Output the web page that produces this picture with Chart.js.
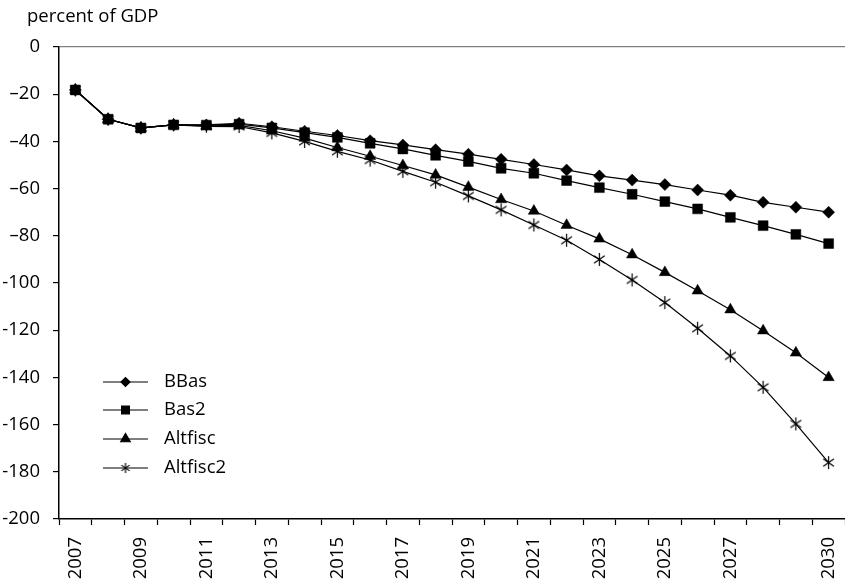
<!DOCTYPE html>
<html>
<head>
<meta charset="utf-8">
<script src="https://cdn.jsdelivr.net/npm/chart.js@4.4.0/dist/chart.umd.min.js"></script>
<style>
  html, body { margin: 0; padding: 0; background: #fff; }
  #wrap { width: 845px; height: 580px; }
</style>
</head>
<body>
<div id="wrap"><canvas id="chart" width="845" height="580"></canvas></div>
<script>
const years = [2007, 2008, 2009, 2010, 2011, 2012, 2013, 2014, 2015, 2016, 2017, 2018,
               2019, 2020, 2021, 2022, 2023, 2024, 2025, 2026, 2027, 2028, 2029, 2030];
const shownYears = [2007, 2009, 2011, 2013, 2015, 2017, 2019, 2021, 2023, 2025, 2027, 2030];

const bbas = [-18.2, -30.6, -34.3, -33.0, -33.0, -32.3, -33.8, -35.7, -37.5, -39.7, -41.5, -43.5,
              -45.4, -47.6, -49.8, -52.1, -54.6, -56.4, -58.3, -60.6, -62.8, -65.8, -67.9, -70.0];
const bas2 = [-18.2, -30.6, -34.3, -33.0, -33.1, -32.7, -34.3, -36.3, -38.3, -40.8, -43.2, -45.9,
              -48.5, -51.4, -53.5, -56.6, -59.6, -62.4, -65.5, -68.6, -72.2, -75.7, -79.4, -83.3];
const altfisc = [-18.2, -30.6, -34.3, -33.0, -33.4, -33.2, -35.5, -38.6, -42.6, -46.3, -50.2, -54.2,
                 -59.4, -64.6, -69.5, -75.5, -81.3, -88.0, -95.5, -103.3, -111.3, -120.2, -129.6, -140.0];
const altfisc2 = [-18.2, -30.6, -34.3, -33.0, -33.6, -33.7, -36.4, -40.0, -44.2, -47.9, -52.7, -57.3,
                  -63.1, -69.0, -75.4, -81.9, -90.0, -98.7, -108.3, -119.2, -130.9, -144.2, -159.7, -176.1];

const yMin = -200;
const yMax = 0;
const yStep = 20;

const FONT = "'Open Sans', 'Noto Sans', sans-serif";
const FONT_SIZE = 18.5;

// six-armed asterisk like the reference marker
function asterisk(r) {
    const c = document.createElement("canvas");
    const s = Math.ceil(r * 2 + 2);
    c.width = s;
    c.height = s;
    const g = c.getContext("2d");
    g.strokeStyle = "#000";
    g.lineWidth = 1.2;
    const m = s / 2;
    [90, 35, 145].forEach(deg => {
        const a = deg * Math.PI / 180;
        g.beginPath();
        g.moveTo(m - r * Math.cos(a), m - r * Math.sin(a));
        g.lineTo(m + r * Math.cos(a), m + r * Math.sin(a));
        g.stroke();
    });
    return c;
}

function series(label, data, style, radius) {
    return {
        label: label,
        data: data,
        borderColor: "#000",
        borderWidth: 1.2,
        backgroundColor: "#000",
        pointStyle: style,
        pointRadius: radius,
        pointHoverRadius: radius,
        pointBackgroundColor: "#000",
        pointBorderColor: "#000",
        pointBorderWidth: 0.5,
        tension: 0
    };
}

const datasets = [
    series("BBas", bbas, "rectRot", 6),
    series("Bas2", bas2, "rect", 7),
    series("Altfisc", altfisc, "triangle", 6.5),
    series("Altfisc2", altfisc2, asterisk(6.5), 6)
];

// title text and legend with line + marker, drawn inside the plot
const extras = {
    id: "extras",
    afterDraw(chart) {
        const ctx = chart.ctx;
        ctx.save();
        ctx.fillStyle = "#000";
        ctx.font = FONT_SIZE + "px " + FONT;
        ctx.textBaseline = "middle";
        ctx.textAlign = "left";
        ctx.fillText("percent of GDP", 27, 17);

        const rows = [382, 410, 439, 468];
        const sizes = [4.5, 5.5, 5.5, 5];
        chart.data.datasets.forEach((ds, i) => {
            const y = rows[i];
            ctx.strokeStyle = "#000";
            ctx.lineWidth = 1.2;
            ctx.beginPath();
            ctx.moveTo(103, y);
            ctx.lineTo(148, y);
            ctx.stroke();
            ctx.fillStyle = "#000";
            const style = i === 3 ? asterisk(5) : ds.pointStyle;
            Chart.helpers.drawPoint(ctx, {
                pointStyle: style,
                radius: sizes[i],
                borderWidth: ds.pointBorderWidth,
                rotation: 0
            }, 125.5, y);
            ctx.fillStyle = "#000";
            ctx.font = FONT_SIZE + "px " + FONT;
            ctx.fillText(ds.label, 164, y);
        });
        ctx.restore();
    }
};

new Chart(document.getElementById("chart"), {
    type: "line",
    data: {
        labels: years.map(String),
        datasets: datasets
    },
    options: {
        responsive: false,
        animation: false,
        devicePixelRatio: 1,
        layout: {
            autoPadding: false,
            padding: { top: 47, right: 0, bottom: 0, left: 0 }
        },
        plugins: {
            legend: { display: false },
            tooltip: { enabled: false }
        },
        scales: {
            x: {
                offset: true,
                border: { color: "#000", width: 1.5 },
                grid: {
                    offset: true,
                    drawOnChartArea: false,
                    drawTicks: true,
                    tickLength: 6,
                    tickColor: "#000",
                    tickWidth: 1.2
                },
                ticks: {
                    autoSkip: false,
                    maxRotation: 90,
                    minRotation: 90,
                    padding: 12,
                    color: "#000",
                    font: { size: FONT_SIZE, family: FONT },
                    callback(value, index) {
                        const yr = years[index];
                        return shownYears.includes(yr) ? String(yr) : "";
                    }
                },
                afterFit(scale) {
                    scale.height = 61;
                    scale.paddingRight = 0;
                    scale.paddingLeft = 0;
                }
            },
            y: {
                min: yMin,
                max: yMax,
                border: { color: "#000", width: 1.5 },
                grid: {
                    color(ctx) { return ctx.tick && ctx.tick.value === 0 ? "#808080" : "rgba(0,0,0,0)"; },
                    lineWidth: 1.2,
                    drawTicks: true,
                    tickLength: 6,
                    tickColor: "#000",
                    tickWidth: 1.2
                },
                ticks: {
                    stepSize: yStep,
                    padding: 13,
                    color: "#000",
                    font: { size: FONT_SIZE, family: FONT },
                    callback(value) {
                        if (value === 0) return "0";
                        if (value > -100) return "\u2013" + Math.abs(value);
                        return "-" + Math.abs(value);
                    }
                },
                afterFit(scale) { scale.width = 59; }
            }
        }
    },
    plugins: [extras]
});
</script>
</body>
</html>
